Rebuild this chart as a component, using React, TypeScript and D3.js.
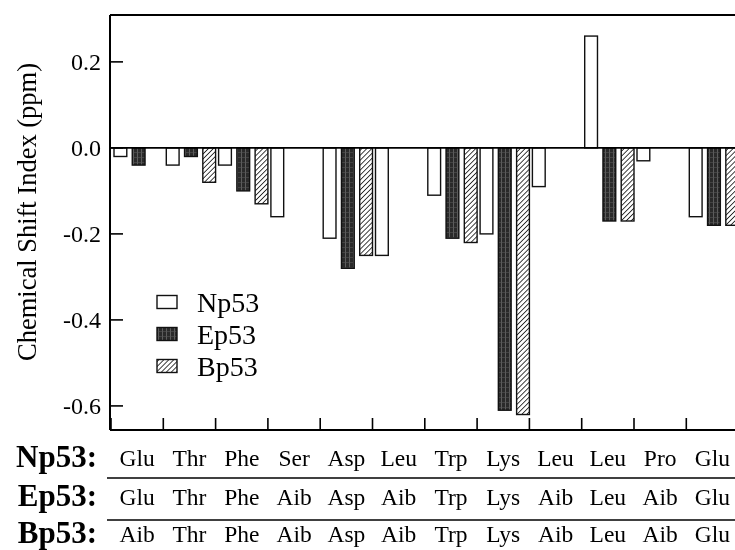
import React, { useRef, useEffect } from "react";
import * as d3 from "d3";

// residues per peptide, one column per position
const npResidues = ["Glu", "Thr", "Phe", "Ser", "Asp", "Leu", "Trp", "Lys", "Leu", "Leu", "Pro", "Glu"];
const epResidues = ["Glu", "Thr", "Phe", "Aib", "Asp", "Aib", "Trp", "Lys", "Aib", "Leu", "Aib", "Glu"];
const bpResidues = ["Aib", "Thr", "Phe", "Aib", "Asp", "Aib", "Trp", "Lys", "Aib", "Leu", "Aib", "Glu"];

// chemical shift index (ppm), null = no bar
const np53 = [-0.02, -0.04, -0.04, -0.16, -0.21, -0.25, -0.11, -0.2, -0.09, 0.26, -0.03, -0.16];
const ep53 = [-0.04, -0.02, -0.1, null, -0.28, null, -0.21, -0.61, null, -0.17, null, -0.18];
const bp53 = [null, -0.08, -0.13, null, -0.25, null, -0.22, -0.62, null, -0.17, null, -0.18];

const seriesNames = ["Np53", "Ep53", "Bp53"];
const yTicks = [0.2, 0.0, -0.2, -0.4, -0.6];

const App = () => {
  const svgRef = useRef<SVGSVGElement>(null);

  useEffect(() => {
    const width = 735;
    const height = 550;
    const left = 110;
    const top = 15;
    const bottom = 430;
    const step = 52.3;
    const font = "'Liberation Serif', 'Times New Roman', serif";

    const svg = d3.select(svgRef.current);
    svg.selectAll("*").remove();
    svg
      .attr("width", width)
      .attr("height", height)
      .style("display", "block")
      .style("font-family", font);

    const idx = d3.range(npResidues.length).map(String);
    const x = d3.scaleBand().domain(idx).range([left + 1, left + 1 + step * idx.length]);
    const xs = d3.scaleBand().domain(seriesNames).range([3, step]).paddingInner(0.3);
    const y = d3.scaleLinear().domain([-0.656, 0.309]).range([bottom, top]);

    // patterns
    const defs = svg.append("defs");
    const dark = defs
      .append("pattern")
      .attr("id", "pat-ep")
      .attr("patternUnits", "userSpaceOnUse")
      .attr("width", 4)
      .attr("height", 5);
    dark.append("rect").attr("width", 4).attr("height", 5).attr("fill", "#2a2a2a");
    dark.append("line").attr("x1", 1.5).attr("x2", 1.5).attr("y1", 0).attr("y2", 5)
      .attr("stroke", "#6a6a6a").attr("stroke-width", 0.8);
    dark.append("line").attr("x1", 0).attr("x2", 4).attr("y1", 2.5).attr("y2", 2.5)
      .attr("stroke", "#555").attr("stroke-width", 0.6);

    const hatch = defs
      .append("pattern")
      .attr("id", "pat-bp")
      .attr("patternUnits", "userSpaceOnUse")
      .attr("width", 3.5)
      .attr("height", 3.5)
      .attr("patternTransform", "rotate(45)");
    hatch.append("rect").attr("width", 3.5).attr("height", 3.5).attr("fill", "#fff");
    hatch.append("line").attr("x1", 0).attr("x2", 0).attr("y1", 0).attr("y2", 3.5)
      .attr("stroke", "#111").attr("stroke-width", 1.6);

    const fills: Record<string, string> = {
      Np53: "#fff",
      Ep53: "url(#pat-ep)",
      Bp53: "url(#pat-bp)",
    };
    const values: Record<string, (number | null)[]> = { Np53: np53, Ep53: ep53, Bp53: bp53 };

    // bars
    const bars = seriesNames.flatMap((s) =>
      values[s].map((v, i) => ({ s, i, v })).filter((d) => d.v !== null)
    );
    svg
      .append("g")
      .selectAll("rect")
      .data(bars)
      .join("rect")
      .attr("x", (d) => x(String(d.i))! + xs(d.s)!)
      .attr("width", xs.bandwidth())
      .attr("y", (d) => y(Math.max(0, d.v as number)))
      .attr("height", (d) => Math.abs(y(d.v as number) - y(0)))
      .attr("fill", (d) => fills[d.s])
      .attr("stroke", "#111")
      .attr("stroke-width", 1.4);

    // frame and zero line
    const axisG = svg.append("g").attr("stroke", "#000").attr("fill", "none");
    axisG.append("line").attr("x1", left).attr("x2", width).attr("y1", top).attr("y2", top).attr("stroke-width", 2);
    axisG.append("line").attr("x1", left).attr("x2", left).attr("y1", top).attr("y2", bottom).attr("stroke-width", 2);
    axisG.append("line").attr("x1", left).attr("x2", width).attr("y1", bottom).attr("y2", bottom).attr("stroke-width", 2);
    axisG.append("line").attr("x1", left).attr("x2", width).attr("y1", y(0)).attr("y2", y(0)).attr("stroke-width", 1.6);

    // y ticks
    yTicks.forEach((t) => {
      axisG.append("line").attr("x1", left).attr("x2", left + 13).attr("y1", y(t)).attr("y2", y(t)).attr("stroke-width", 1.6);
    });
    svg
      .append("g")
      .selectAll("text")
      .data(yTicks)
      .join("text")
      .attr("x", 101)
      .attr("y", (d) => y(d))
      .attr("dy", "0.35em")
      .attr("text-anchor", "end")
      .attr("font-size", 24)
      .text((d) => d3.format(".1f")(d).replace("−", "-"));

    // x ticks (band boundaries)
    idx.forEach((k) => {
      const xp = x(k)!;
      axisG.append("line").attr("x1", xp).attr("x2", xp).attr("y1", bottom).attr("y2", bottom - 12).attr("stroke-width", 1.6);
    });

    // y label
    svg
      .append("text")
      .attr("transform", `translate(27,212) rotate(-90)`)
      .attr("text-anchor", "middle")
      .attr("dy", "0.35em")
      .attr("font-size", 26.5)
      .text("Chemical Shift Index (ppm)");

    // legend
    const legend = svg.append("g").attr("transform", "translate(157,302)");
    const li = legend
      .selectAll("g")
      .data(seriesNames)
      .join("g")
      .attr("transform", (d, i) => `translate(0,${i * 32})`);
    li.append("rect")
      .attr("x", 0)
      .attr("y", -6.5)
      .attr("width", 20)
      .attr("height", 13)
      .attr("fill", (d) => fills[d])
      .attr("stroke", "#111")
      .attr("stroke-width", 1.4);
    li.append("text")
      .attr("x", 40)
      .attr("dy", "0.35em")
      .attr("font-size", 28)
      .text((d) => d);

    // residue table below axis
    const rows = [
      { name: "Np53:", res: npResidues, base: 467 },
      { name: "Ep53:", res: epResidues, base: 506 },
      { name: "Bp53:", res: bpResidues, base: 543 },
    ];
    rows.forEach((r) => {
      svg
        .append("text")
        .attr("x", 97)
        .attr("y", r.base)
        .attr("text-anchor", "end")
        .attr("font-size", 31)
        .attr("font-weight", "bold")
        .text(r.name);
      svg
        .append("g")
        .selectAll("text")
        .data(r.res)
        .join("text")
        .attr("x", (d, i) => x(String(i))! + x.bandwidth() / 2)
        .attr("y", r.base - 1)
        .attr("text-anchor", "middle")
        .attr("font-size", 23.5)
        .text((d) => d);
    });
    [478, 520].forEach((ly) => {
      axisG.append("line").attr("x1", 107).attr("x2", width).attr("y1", ly).attr("y2", ly).attr("stroke-width", 1.6);
    });
  }, []);

  return (
    <div style={{ position: "fixed", left: 0, top: 0 }}>
      <svg ref={svgRef}></svg>
    </div>
  );
};

export default App;
